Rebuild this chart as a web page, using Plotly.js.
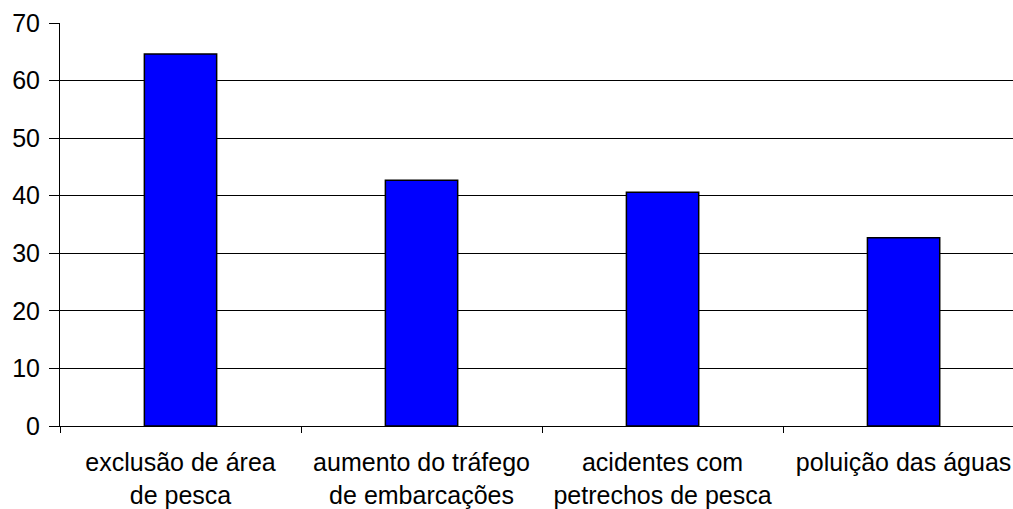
<!DOCTYPE html>
<html>
<head>
<meta charset="utf-8">
<script src="https://cdn.plot.ly/plotly-3.0.1.min.js"></script>
<style>html,body{margin:0;padding:0;background:#fff;}#chart{width:1013px;height:509px;}</style>
</head>
<body>
<div id="chart"></div>
<script>
const categories = [
  "exclusão de área<br>de pesca",
  "aumento do tráfego<br>de embarcações",
  "acidentes com<br>petrechos de pesca",
  "poluição das águas"
];
const values = [64.6, 42.7, 40.6, 32.7];
const yTicks = [0, 10, 20, 30, 40, 50, 60, 70];

const trace = {
  type: 'bar',
  x: categories,
  y: values,
  width: 0.3,
  marker: {color: '#0000FF', line: {color: '#000000', width: 1.5}},
  hoverinfo: 'x+y'
};

const layout = {
  width: 1013,
  height: 509,
  margin: {l: 60, r: 0, t: 23, b: 83},
  paper_bgcolor: '#ffffff',
  plot_bgcolor: '#ffffff',
  showlegend: false,
  font: {family: 'Liberation Sans, Arial, sans-serif', size: 25, color: '#000000'},
  xaxis: {
    type: 'category',
    range: [-0.5, 3.454],
    showline: true,
    linecolor: '#000000',
    linewidth: 1,
    ticks: 'outside',
    tickson: 'boundaries',
    ticklen: 6,
    tickcolor: '#000000',
    showgrid: false,
    ticklabelstandoff: 14,
    tickfont: {size: 25, family: 'Liberation Sans, Arial, sans-serif', color: '#000'},
    fixedrange: true
  },
  yaxis: {
    range: [0, 70],
    tickvals: yTicks,
    ticktext: yTicks.map(String),
    showline: true,
    linecolor: '#000000',
    linewidth: 1,
    ticks: 'outside',
    ticklen: 10,
    tickcolor: '#000000',
    showgrid: true,
    gridcolor: '#000000',
    gridwidth: 1,
    zeroline: false,
    ticklabelstandoff: 4,
    tickfont: {size: 25, family: 'Liberation Sans, Arial, sans-serif', color: '#000'},
    fixedrange: true
  },
  bargap: 0.7
};

Plotly.newPlot('chart', [trace], layout, {displayModeBar: false, staticPlot: true});
</script>
</body>
</html>
